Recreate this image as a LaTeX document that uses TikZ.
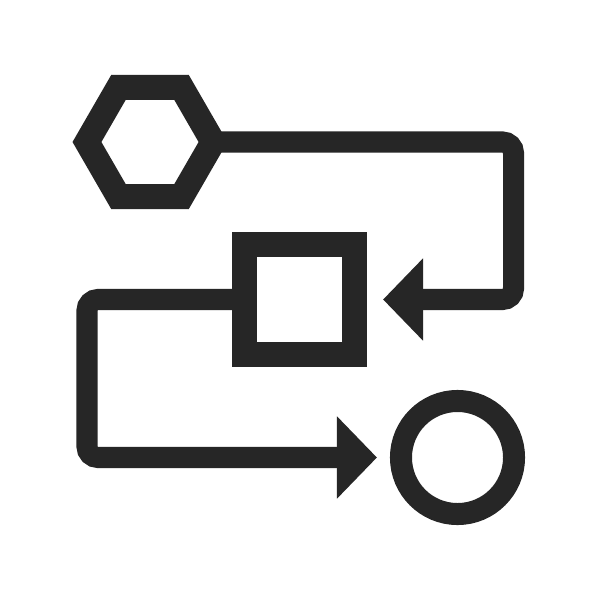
\documentclass[tikz,border=0pt]{standalone}
\usepackage{tikz}
\usetikzlibrary{arrows.meta,shapes.geometric}
\definecolor{ink}{HTML}{262626}

\begin{document}
\begin{tikzpicture}[x=0.01cm,y=-0.01cm,>={Triangle[length=0.4cm,width=0.8cm]},
                        draw=ink,line join=miter]
      \tikzstyle{shapebox}=[draw=ink,line width=0.25cm,inner sep=0pt]
      \tikzstyle{flow}=[->,draw=ink,fill=none,line width=0.21cm,rounded corners=0.11cm]
      \useasboundingbox[fill=white] (0,0) rectangle (600,600);

      \node[shapebox,regular polygon,regular polygon sides=6,outer sep=0pt,
            minimum size=1.26cm] (hex)  at (150,142)     {};
      \node[shapebox,rectangle,minimum size=1.1cm]    (sq)   at (299.5,299.5) {};
      \node[shapebox,circle,line width=0.22cm,minimum size=1.13cm]
                                                        (circ) at (457.5,457.5) {};

      \coordinate (rt) at (513.5,299.5);
      \coordinate (lt) at (87,457.5);

      \draw[flow,shorten >=0.16cm] (hex.east) -| (rt) -- (sq.east);
      \draw[flow,shorten >=0.13cm] (sq.west) -| (lt) -- (circ.west);
    \end{tikzpicture}
\end{document}
